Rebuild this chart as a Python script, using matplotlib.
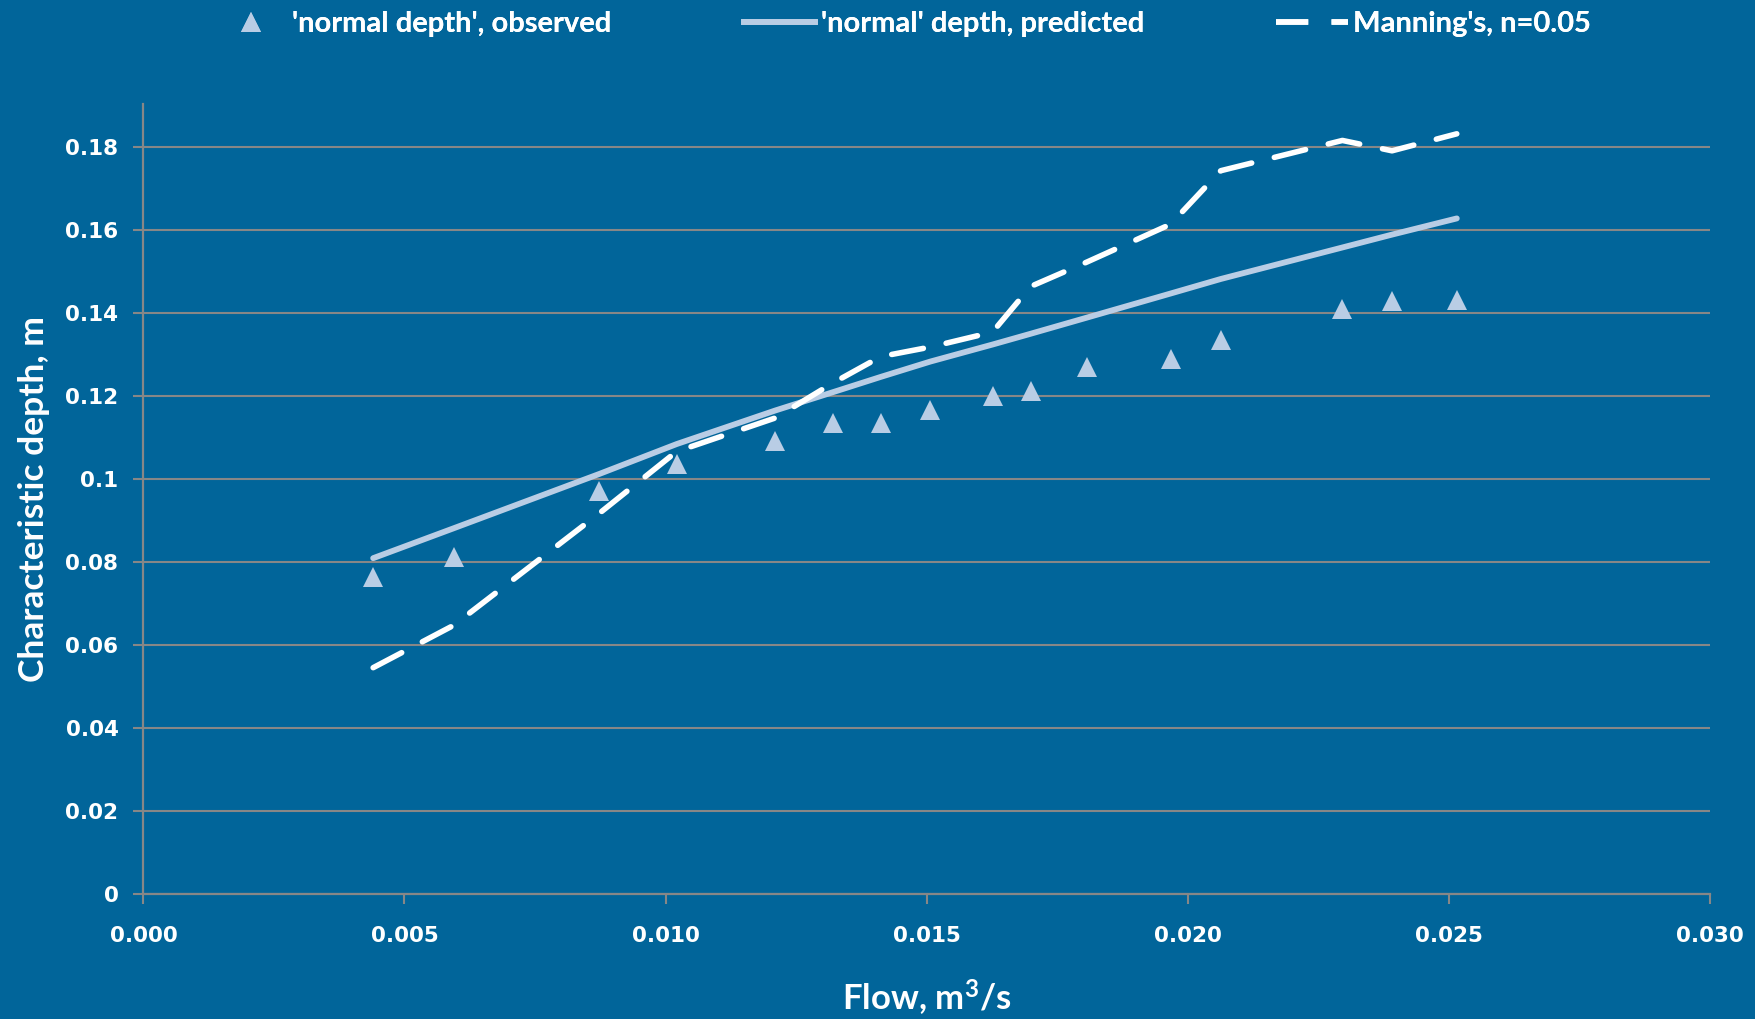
import matplotlib
matplotlib.use("Agg")
import matplotlib.pyplot as plt
from matplotlib.lines import Line2D

# Flow (m^3/s) and characteristic depth (m)
flow = [0.00440, 0.00594, 0.00873, 0.01021, 0.01210, 0.01320, 0.01412, 0.01507,
        0.01626, 0.01699, 0.01807, 0.01967, 0.02063, 0.02296, 0.02391, 0.02515]
depth_observed = [0.0764, 0.0813, 0.0971, 0.1037, 0.1093, 0.1137, 0.1137, 0.1168,
                  0.1202, 0.1214, 0.1271, 0.1289, 0.1337, 0.1411, 0.1430, 0.1432]
depth_predicted = [0.0810, 0.0882, 0.1013, 0.1085, 0.1166, 0.1210, 0.1247, 0.1284,
                   0.1325, 0.1351, 0.1390, 0.1448, 0.1483, 0.1559, 0.1590, 0.1629]
depth_manning = [0.0546, 0.0648, 0.0918, 0.1067, 0.1148, 0.1232, 0.1296, 0.1319,
                 0.1355, 0.1465, 0.1524, 0.1615, 0.1744, 0.1817, 0.1792, 0.1833]

x_ticks = [0.000, 0.005, 0.010, 0.015, 0.020, 0.025, 0.030]
x_tick_labels = ["0.000", "0.005", "0.010", "0.015", "0.020", "0.025", "0.030"]
y_ticks = [0.00, 0.02, 0.04, 0.06, 0.08, 0.10, 0.12, 0.14, 0.16, 0.18]
y_tick_labels = ["0", "0.02", "0.04", "0.06", "0.08", "0.1", "0.12", "0.14", "0.16", "0.18"]

series_names = ["'normal depth', observed", "'normal' depth, predicted", "Manning's, n=0.05"]

BG = "#01659a"
LIGHT = "#b9cde5"
GRID = "#878787"
TITLE_FONT = ["Lato", "DejaVu Sans"]

plt.rcParams["mathtext.default"] = "regular"

fig = plt.figure(figsize=(17.55, 10.19), dpi=100, facecolor=BG)
ax = fig.add_axes([0.0817, 0.1225, 0.8927, 0.7755], facecolor=BG)

ax.plot(flow, depth_predicted, color=LIGHT, lw=4.2, solid_capstyle="round", zorder=3)
ax.plot(flow, depth_manning, color="white", lw=4.0, linestyle=(0, (5.8, 4.2)),
        dash_capstyle="round", zorder=4)
ax.plot(flow, depth_observed, linestyle="none", marker="^", markersize=14.5,
        color=LIGHT, markeredgewidth=0, zorder=5)

ax.set_xlim(0.0, 0.030)
ax.set_ylim(0.0, 0.1905)
ax.set_xticks(x_ticks)
ax.set_xticklabels(x_tick_labels)
ax.set_yticks(y_ticks)
ax.set_yticklabels(y_tick_labels)

ax.yaxis.grid(True, color=GRID, lw=1.5, zorder=1)
ax.set_axisbelow(True)
for side in ("top", "right"):
    ax.spines[side].set_visible(False)
for side in ("left", "bottom"):
    ax.spines[side].set_color(GRID)
    ax.spines[side].set_linewidth(1.6)

ax.tick_params(axis="both", colors=GRID, width=1.5, length=7, labelcolor="white")
ax.tick_params(axis="y", pad=11)
ax.tick_params(axis="x", pad=16)
for lab in ax.get_xticklabels() + ax.get_yticklabels():
    lab.set_fontfamily("DejaVu Sans")
    lab.set_fontweight("bold")
    lab.set_fontsize(15.5)

ax.set_ylabel("Characteristic depth, m", color="white", fontsize=25.5,
              family=TITLE_FONT, fontweight="bold", labelpad=11)
ax.set_xlabel("Flow, m$^3$/s", color="white", fontsize=25,
              family=TITLE_FONT, fontweight="bold", labelpad=23)

# Legend row across the top, one entry per series
handles = [
    Line2D([], [], linestyle="none", marker="^", markersize=14.5, color=LIGHT,
           markeredgewidth=0),
    Line2D([], [], color=LIGHT, lw=4.2),
    Line2D([], [], color="white", lw=4.0, linestyle=(0, (5.8, 4.2))),
]
anchors = [0.1226, 0.4239, 0.7271]
for h, name, xa in zip(handles, series_names, anchors):
    leg = fig.legend([h], [name], loc="center left", bbox_to_anchor=(xa, 0.976),
                     frameon=False, handlelength=2.45, handletextpad=0.2,
                     borderpad=0, borderaxespad=0,
                     prop={"family": TITLE_FONT, "size": 21, "weight": "bold"},
                     labelcolor="white")
    fig.add_artist(leg)

fig.savefig("out.png", dpi=100, facecolor=BG)
